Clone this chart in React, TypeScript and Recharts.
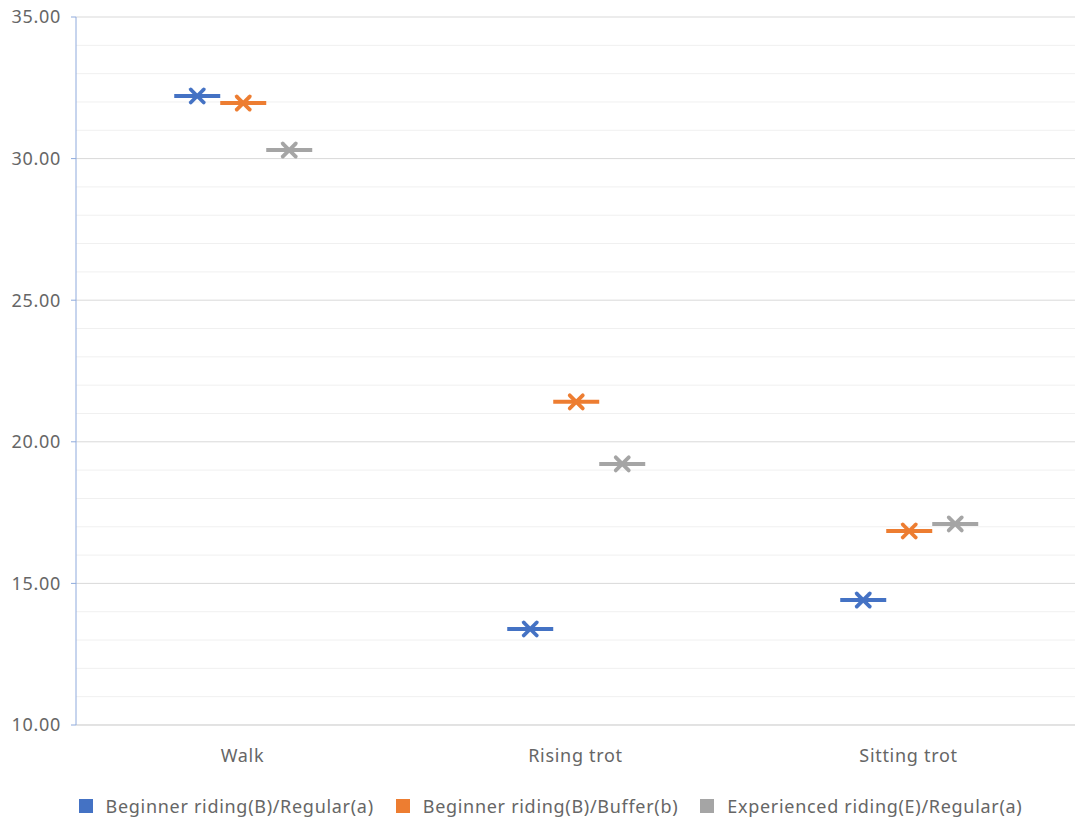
import React from 'react';
import {
  ComposedChart,
  Bar,
  XAxis,
  YAxis,
  CartesianGrid,
  Legend,
} from 'recharts';

const categories = ['Walk', 'Rising trot', 'Sitting trot'];
const beginnerRegular = [32.21, 13.39, 14.41];
const beginnerBuffer = [31.96, 21.41, 16.85];
const experiencedRegular = [30.3, 19.22, 17.1];
const yTicks = [10, 15, 20, 25, 30, 35];
const minorTicks = [11, 12, 13, 14, 16, 17, 18, 19, 21, 22, 23, 24, 26, 27, 28, 29, 31, 32, 33, 34];

const series = [
  { key: 'b_reg', name: 'Beginner riding(B)/Regular(a)', color: '#4472C4' },
  { key: 'b_buf', name: 'Beginner riding(B)/Buffer(b)', color: '#ED7D31' },
  { key: 'e_reg', name: 'Experienced riding(E)/Regular(a)', color: '#A5A5A5' },
];

const data = categories.map((c, i) => ({
  name: c,
  b_reg: beginnerRegular[i],
  b_buf: beginnerBuffer[i],
  e_reg: experiencedRegular[i],
}));

const FONT = '"Noto Sans", sans-serif';
const TEXT = '#666666';
const tickStyle = { fill: TEXT, fontSize: 18, fontFamily: FONT, letterSpacing: 0.7 };

const MeanMark = (color: string) => (props: any) => {
  const { x, y, width } = props;
  if (x == null || y == null) return null;
  const cx = x + width / 2;
  const s = 6.5;
  return (
    <g>
      <line x1={x} x2={x + width} y1={y} y2={y} stroke={color} strokeWidth={4} />
      <line x1={cx - s} y1={y - s} x2={cx + s} y2={y + s} stroke={color} strokeWidth={3.8} strokeLinecap="round" />
      <line x1={cx - s} y1={y + s} x2={cx + s} y2={y - s} stroke={color} strokeWidth={3.8} strokeLinecap="round" />
    </g>
  );
};

const LegendContent = () => (
  <div
    style={{
      display: 'flex',
      justifyContent: 'center',
      fontFamily: FONT,
      fontSize: 18,
      letterSpacing: 0.7,
      color: TEXT,
      lineHeight: '26px',
      paddingLeft: 26,
    }}
  >
    {series.map((s) => (
      <div key={s.key} style={{ display: 'flex', alignItems: 'center', margin: '0 11px' }}>
        <span style={{ width: 14, height: 14, background: s.color, display: 'inline-block', marginRight: 13 }} />
        <span>{s.name}</span>
      </div>
    ))}
  </div>
);

export default function App() {
  return (
    <div style={{ position: 'absolute', left: 0, top: 0, background: '#fff' }}>
      <ComposedChart
        width={1075}
        height={824}
        data={data}
        margin={{ top: 17, right: 0, bottom: 5, left: 0 }}
        barCategoryGap="29.5%"
        barGap={0}
      >
        <CartesianGrid vertical={false} horizontalValues={minorTicks} stroke="#F0F0F0" />
        <CartesianGrid vertical={false} horizontalValues={yTicks} stroke="#D9D9D9" />
        <XAxis
          dataKey="name"
          axisLine={{ stroke: '#D9D9D9' }}
          tickLine={false}
          tickMargin={18}
          height={68}
          tick={tickStyle}
        />
        <YAxis
          domain={[10, 35]}
          ticks={yTicks}
          width={76}
          axisLine={{ stroke: '#8FAADC' }}
          tickLine={{ stroke: '#8FAADC' }}
          tickSize={5}
          tickMargin={10}
          tickFormatter={(v: number) => v.toFixed(2)}
          tick={tickStyle}
        />
        <Legend verticalAlign="bottom" content={<LegendContent />} />
        {series.map((s) => (
          <Bar
            key={s.key}
            dataKey={s.key}
            name={s.name}
            fill={s.color}
            shape={MeanMark(s.color)}
            isAnimationActive={false}
          />
        ))}
      </ComposedChart>
    </div>
  );
}
